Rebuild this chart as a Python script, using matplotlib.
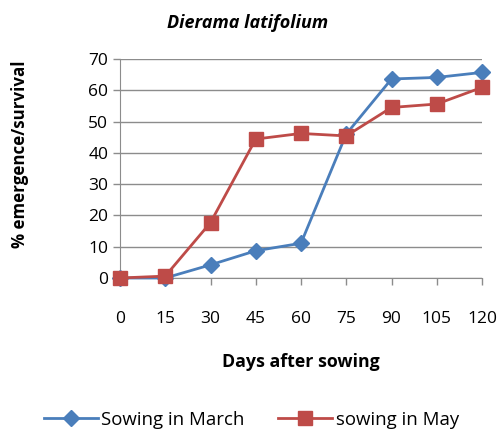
import matplotlib.pyplot as plt

days = [0, 15, 30, 45, 60, 75, 90, 105, 120]
march = [0, 0, 4.2, 8.7, 11.1, 46, 63.6, 64.1, 65.7]
may = [0, 0.6, 17.7, 44.4, 46.2, 45.4, 54.5, 55.6, 60.9]

plt.rcParams['font.family'] = ['Open Sans', 'DejaVu Sans']

fig = plt.figure(figsize=(5, 4.32), dpi=100)
ax = fig.add_axes([0.24, 0.3565, 0.724, 0.507])

ax.plot(days, march, color='#4A7EBB', marker='D', markersize=8.5, linewidth=2,
        label='Sowing in March', clip_on=False, zorder=3)
ax.plot(days, may, color='#BE4B48', marker='s', markersize=10, linewidth=2,
        label='sowing in May', clip_on=False, zorder=4)

ax.set_xlim(0, 120)
ax.set_ylim(0, 70)
ax.set_xticks(days)
ax.set_xticklabels([str(d) for d in days])
ax.set_yticks(range(0, 71, 10))
ax.grid(axis='y', color='#8C8C8C', linewidth=1)
ax.set_axisbelow(True)
for s in ['top', 'right']:
    ax.spines[s].set_visible(False)
for s in ['left', 'bottom']:
    ax.spines[s].set_color('#8C8C8C')
ax.tick_params(axis='both', colors='#8C8C8C', labelcolor='black', labelsize=12.5,
               length=5, width=1, direction='out')
ax.tick_params(axis='x', pad=18.5)

# titles placed like the original
fig.text(248 / 500, 1 - 23 / 432, 'Dierama latifolium', fontsize=13, fontweight='bold',
         style='italic', ha='center', va='center')
fig.text(301 / 500, 1 - 362 / 432, 'Days after sowing', fontsize=12.8, fontweight='bold',
         ha='center', va='center')
fig.text(20 / 500, 1 - 154 / 432, '% emergence/survival', fontsize=12.2, fontweight='bold',
         rotation=90, ha='center', va='center')

fig.legend(loc='center', bbox_to_anchor=(251.5 / 500, 1 - 420 / 432), ncol=2, frameon=False,
           fontsize=13.4, handlelength=2.9, handletextpad=0.2, columnspacing=1.8,
           borderaxespad=0, borderpad=0)

fig.savefig('out.png', dpi=100)
